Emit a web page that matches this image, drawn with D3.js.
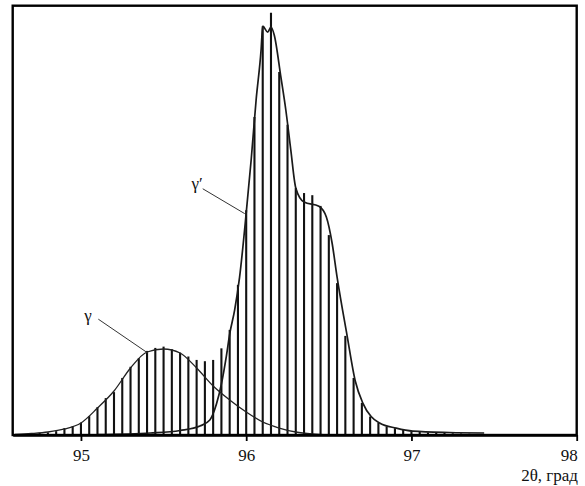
<!DOCTYPE html>
<html>
<head>
<meta charset="utf-8">
<script src="https://cdn.jsdelivr.net/npm/d3@7"></script>
<style>
  html, body { margin: 0; padding: 0; background: #fff; }
  svg { display: block; }
  svg text { font-family: "Liberation Serif", "DejaVu Serif", serif !important; fill: #111; }
</style>
</head>
<body>
<svg id="chart" width="585" height="486"></svg>
<script>
// ---- Data ----
const xTicks = [95, 96, 97, 98];
const xAxisLabel = "2θ, град";

// Measured profile (vertical bars), 2θ in degrees, intensity in arbitrary units (0–100)
const barTheta = [94.60, 94.65, 94.70, 94.75, 94.80, 94.85, 94.90, 94.95,
  95.00, 95.05, 95.10, 95.15, 95.20, 95.25, 95.30, 95.35, 95.40, 95.45,
  95.50, 95.55, 95.60, 95.65, 95.70, 95.75, 95.80, 95.85, 95.90, 95.95,
  96.00, 96.05, 96.10, 96.15, 96.20, 96.25, 96.30, 96.35, 96.40, 96.45,
  96.50, 96.55, 96.60, 96.65, 96.70, 96.75, 96.80, 96.85, 96.90, 96.95,
  97.00, 97.05, 97.10, 97.15, 97.20, 97.25, 97.30, 97.35, 97.40, 97.45];
const barIntensity = [0.1, 0.2, 0.35, 0.5, 0.6, 0.9, 1.6, 2.1,
  2.9, 4.4, 6.5, 8.6, 10.0, 13.3, 15.9, 17.9, 19.6, 20.3,
  20.6, 20.0, 19.2, 18.3, 17.5, 17.2, 17.5, 20.2, 24.5, 35.0,
  52.4, 74.1, 95.3, 98.4, 84.6, 72.3, 57.6, 56.4, 55.9, 53.4,
  46.6, 35.4, 23.1, 13.3, 7.5, 4.3, 2.8, 2.0, 1.6, 1.2,
  0.9, 0.7, 0.6, 0.5, 0.5, 0.4, 0.35, 0.3, 0.25, 0.2];

// γ component curve
const gammaTheta = [94.60, 94.70, 94.80, 94.90, 95.00, 95.10, 95.20, 95.30, 95.40, 95.50,
  95.60, 95.70, 95.80, 95.90, 96.00, 96.10, 96.20, 96.30, 96.40, 96.50];
const gammaIntensity = [0.12, 0.35, 0.70, 1.40, 2.80, 6.29, 10.26, 15.62, 19.35, 20.05,
  19.11, 15.62, 11.42, 8.16, 5.36, 3.03, 1.63, 0.70, 0.23, 0.0];

// γ' component curve (main peak envelope)
const gammaPTheta = [95.10, 95.42, 95.60, 95.72, 95.78, 95.82, 95.85, 95.88, 95.90, 95.93,
  95.96, 96.00, 96.03, 96.06, 96.09, 96.10, 96.13, 96.15, 96.17, 96.21,
  96.24, 96.27, 96.30, 96.35, 96.44, 96.485, 96.52, 96.55, 96.61, 96.66,
  96.705, 96.756, 96.807, 96.908, 97.008, 97.23, 97.44];
const gammaPIntensity = [0.1, 0.47, 1.05, 2.1, 3.5, 7.2, 11.9, 18.4, 23.5, 29.1,
  36.8, 51.7, 64.1, 78.1, 89.7, 95.3, 93.9, 95.1, 93.2, 83.4,
  75.7, 66.4, 57.6, 54.3, 53.3, 50.8, 44.7, 36.8, 23.3, 12.6,
  7.5, 4.3, 2.8, 1.6, 0.9, 0.58, 0.47];

// Labels with leader lines
const labelNames = ["γ", "γ′"];
const labelTheta = [95.043, 95.703];
const labelIntensity = [26.6, 57.3];
const leaderFromTheta = [95.105, 95.737];
const leaderFromIntensity = [27.0, 57.4];
const leaderToTheta = [95.405, 95.991];
const leaderToIntensity = [19.1, 51.6];

// ---- Drawing ----
const svg = d3.select("#chart");
const plotLeft = 12.7, plotRight = 576.7, plotTop = 5.7, plotBottom = 435;

const x = d3.scaleLinear().domain([94.587, 98]).range([plotLeft, plotRight]);
const y = d3.scaleLinear().domain([0, 100]).range([plotBottom, 6]);

// bars
svg.append("g").selectAll("line")
  .data(barTheta.map((t, i) => ({ t, v: barIntensity[i] })))
  .join("line")
  .attr("x1", d => x(d.t)).attr("x2", d => x(d.t))
  .attr("y1", y(0)).attr("y2", d => y(d.v))
  .attr("stroke", "#111")
  .attr("stroke-width", 2.1);

// curves
const line = d3.line().x(d => x(d[0])).y(d => y(d[1])).curve(d3.curveMonotoneX);

svg.append("path")
  .datum(gammaTheta.map((t, i) => [t, gammaIntensity[i]]))
  .attr("d", line)
  .attr("fill", "none").attr("stroke", "#222").attr("stroke-width", 1.3);

svg.append("path")
  .datum(gammaPTheta.map((t, i) => [t, gammaPIntensity[i]]))
  .attr("d", line)
  .attr("fill", "none").attr("stroke", "#1a1a1a").attr("stroke-width", 1.7);

// leader lines and labels
labelNames.forEach((name, i) => {
  svg.append("line")
    .attr("x1", x(leaderFromTheta[i])).attr("y1", y(leaderFromIntensity[i]))
    .attr("x2", x(leaderToTheta[i])).attr("y2", y(leaderToIntensity[i]))
    .attr("stroke", "#333").attr("stroke-width", 1);
  svg.append("text")
    .attr("x", x(labelTheta[i])).attr("y", y(labelIntensity[i]))
    .attr("text-anchor", "middle")
    .attr("font-size", 17)
    .text(name);
});

// frame
svg.append("rect")
  .attr("x", plotLeft).attr("y", plotTop)
  .attr("width", plotRight - plotLeft).attr("height", plotBottom - plotTop)
  .attr("fill", "none").attr("stroke", "#000").attr("stroke-width", 2.4);

// x axis
const xAxis = d3.axisBottom(x).tickValues(xTicks).tickSize(6).tickSizeOuter(0).tickFormat(d3.format("d"));
const gx = svg.append("g").attr("transform", `translate(0,${plotBottom})`).call(xAxis);
gx.attr("font-family", null);
gx.select(".domain").attr("stroke", "#000").attr("stroke-width", 2.4);
gx.selectAll(".tick line").attr("stroke", "#000").attr("stroke-width", 1.8);
gx.selectAll(".tick text")
  .attr("font-size", 17).attr("fill", "#111").attr("y", 13.5);
gx.selectAll(".tick").filter(d => d === 98).select("text")
  .attr("text-anchor", "end").attr("x", 0.5);

svg.append("text")
  .attr("x", 578).attr("y", 480.5)
  .attr("text-anchor", "end")
  .attr("font-size", 17)
  .text(xAxisLabel);
</script>
</body>
</html>
